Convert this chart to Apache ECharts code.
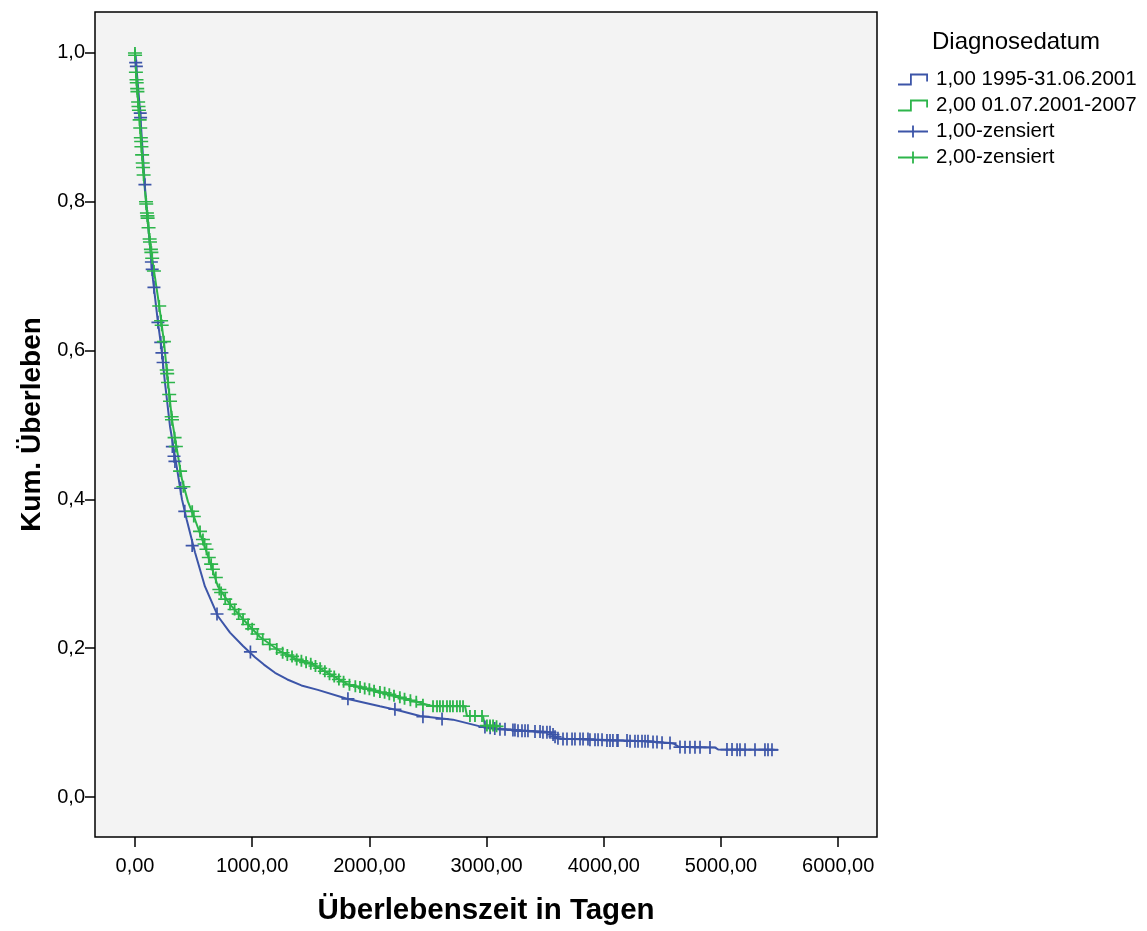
<!DOCTYPE html>
<html><head><meta charset="utf-8">
<script src="https://cdn.jsdelivr.net/npm/echarts@6/dist/echarts.min.js"></script>
<style>html,body{margin:0;padding:0;background:#fff}#c{width:1147px;height:931px}</style>
</head><body><div id="c"></div><script>
const xTicks = [0, 1000, 2000, 3000, 4000, 5000, 6000];
const yTicks = [0, 0.2, 0.4, 0.6, 0.8, 1.0];
const seriesNames = ['1,00 1995-31.06.2001', '2,00 01.07.2001-2007', '1,00-zensiert', '2,00-zensiert'];

// group 1 survival curve [days, cumulative survival]
const curve1 = [[0,1.0],[9,0.987],[43,0.923],[85,0.820],[128,0.740],[154,0.695],[196,0.638],[222,0.608],[256,0.557],[299,0.498],[356,0.444],[401,0.400],[441,0.373],[512,0.329],[597,0.283],[708,0.243],[811,0.221],[922,0.203],[1024,0.188],[1100,0.178],[1195,0.167],[1300,0.158],[1420,0.150],[1560,0.144],[1809,0.132],[2090,0.122],[2261,0.116],[2432,0.109],[2713,0.104],[2944,0.095],[3114,0.0913],[3541,0.0870],[3580,0.0800],[3626,0.0785],[3968,0.0770],[4394,0.0745],[4565,0.0725],[4600,0.0715],[4640,0.0675],[4950,0.0665],[4975,0.0640],[5486,0.0635]];

// group 2 survival curve
const curve2 = [[0,1.0],[13,0.964],[34,0.919],[55,0.874],[77,0.830],[102,0.785],[132,0.740],[171,0.698],[207,0.660],[247,0.612],[282,0.557],[316,0.507],[358,0.467],[401,0.427],[452,0.397],[512,0.373],[612,0.329],[708,0.283],[811,0.259],[922,0.239],[1067,0.215],[1237,0.196],[1382,0.185],[1519,0.178],[1809,0.152],[2090,0.141],[2372,0.129],[2543,0.122],[2816,0.122],[2833,0.109],[2969,0.109],[2986,0.096],[3089,0.095]];

// censored observations group 1
const censor1 = [[6,0.987],[12,0.982],[45,0.919],[48,0.913],[85,0.823],[140,0.719],[147,0.709],[162,0.685],[196,0.638],[220,0.611],[230,0.597],[240,0.584],[319,0.471],[333,0.458],[341,0.451],[390,0.415],[425,0.384],[488,0.338],[700,0.246],[985,0.195],[1817,0.132],[2218,0.118],[2457,0.108],[2620,0.105],[2986,0.094],[3030,0.093],[3070,0.092],[3114,0.091],[3157,0.091],[3225,0.090],[3242,0.090],[3268,0.089],[3302,0.089],[3328,0.089],[3353,0.089],[3413,0.088],[3456,0.088],[3481,0.087],[3515,0.087],[3541,0.087],[3567,0.084],[3584,0.081],[3609,0.079],[3652,0.078],[3686,0.078],[3729,0.078],[3754,0.078],[3797,0.078],[3823,0.078],[3865,0.078],[3882,0.077],[3925,0.077],[3951,0.077],[3985,0.077],[4027,0.076],[4053,0.076],[4078,0.076],[4113,0.076],[4121,0.076],[4198,0.076],[4224,0.075],[4266,0.075],[4292,0.075],[4326,0.075],[4352,0.075],[4377,0.075],[4420,0.074],[4454,0.074],[4497,0.073],[4565,0.0725],[4650,0.0672],[4693,0.0670],[4735,0.0670],[4778,0.0668],[4821,0.0668],[4906,0.0666],[5051,0.0638],[5094,0.0638],[5137,0.0637],[5162,0.0637],[5205,0.0637],[5290,0.0636],[5375,0.0636],[5401,0.0636],[5435,0.0635]];

// censored observations group 2
const censor2 = [[0,1.0],[1,0.997],[8,0.974],[13,0.964],[15,0.960],[19,0.952],[21,0.948],[27,0.934],[30,0.928],[34,0.923],[40,0.910],[45,0.899],[50,0.886],[53,0.881],[55,0.874],[61,0.863],[66,0.852],[69,0.846],[74,0.836],[94,0.800],[96,0.797],[102,0.785],[106,0.781],[108,0.778],[116,0.765],[125,0.750],[128,0.746],[136,0.736],[140,0.732],[147,0.724],[162,0.707],[207,0.660],[223,0.640],[228,0.634],[247,0.612],[271,0.574],[275,0.569],[282,0.557],[292,0.541],[299,0.532],[313,0.511],[316,0.507],[338,0.483],[349,0.471],[385,0.438],[413,0.417],[488,0.384],[502,0.377],[555,0.357],[580,0.346],[594,0.340],[610,0.333],[630,0.322],[650,0.313],[665,0.306],[690,0.295],[720,0.279],[735,0.275],[770,0.266],[811,0.259],[850,0.252],[885,0.246],[922,0.239],[965,0.232],[1000,0.226],[1045,0.219],[1090,0.212],[1150,0.205],[1210,0.199],[1260,0.194],[1300,0.191],[1340,0.189],[1380,0.185],[1420,0.183],[1460,0.181],[1500,0.179],[1540,0.176],[1580,0.173],[1620,0.169],[1660,0.165],[1700,0.162],[1740,0.158],[1780,0.155],[1830,0.151],[1880,0.149],[1920,0.148],[1960,0.146],[2000,0.145],[2040,0.143],[2090,0.141],[2130,0.140],[2170,0.138],[2210,0.136],[2260,0.134],[2300,0.132],[2350,0.130],[2400,0.128],[2457,0.124],[2543,0.122],[2577,0.122],[2602,0.122],[2628,0.122],[2662,0.122],[2688,0.122],[2713,0.122],[2747,0.122],[2773,0.122],[2799,0.122],[2858,0.109],[2901,0.109],[2961,0.109],[3003,0.096],[3029,0.096],[3055,0.096],[3085,0.095]];

const BLUE = '#3C55A8', GREEN = '#2DB54B';
const FONT = '"Liberation Sans", Arial, sans-serif';
const plus = 'path://M-1,-0.13L1,-0.13L1,0.13L-1,0.13Z M-0.13,-1L0.13,-1L0.13,1L-0.13,1Z';
const stepIcon = 'path://M0,10H12V0H30V8H28.2V1.8H13.8V11.8H0Z';
const plusIcon = 'path://M0,5.1H30V6.9H0Z M14.1,0H15.9V12H14.1Z';

const chart = echarts.init(document.getElementById('c'), null, {renderer: 'canvas'});
chart.setOption({
  animation: false,
  backgroundColor: '#fff',
  title: {text: 'Diagnosedatum', left: 927, top: 25, textStyle: {fontFamily: FONT, fontSize: 24, fontWeight: 'normal', color: '#000'}},
  legend: {
    orient: 'vertical', left: 893, top: 64, itemWidth: 30, itemHeight: 12, itemGap: 5,
    textStyle: {fontFamily: FONT, fontSize: 20.5, color: '#000', padding: [0,0,0,3]},
    itemStyle: {borderWidth: 0},
    data: [
      {name: seriesNames[0], icon: stepIcon},
      {name: seriesNames[1], icon: stepIcon},
      {name: seriesNames[2], icon: plusIcon},
      {name: seriesNames[3], icon: plusIcon}
    ]
  },
  grid: {left: 95, right: 270, top: 12, bottom: 93, show: true, backgroundColor: '#f3f3f3', borderColor: '#000', borderWidth: 1.5},
  xAxis: {
    type: 'value', min: -341, max: 6331,
    axisLine: {show: false, onZero: false},
    axisTick: {show: true, customValues: xTicks, length: 10, lineStyle: {color: '#000', width: 1.5}},
    axisLabel: {customValues: xTicks, formatter: v => v.toFixed(2).replace('.', ','), color: '#000', fontSize: 20, fontFamily: FONT, margin: 19},
    splitLine: {show: false},
    name: 'Überlebenszeit in Tagen', nameLocation: 'middle', nameGap: 59,
    nameTextStyle: {fontFamily: FONT, fontSize: 29.5, fontWeight: 'bold', color: '#000'}
  },
  yAxis: {
    type: 'value', min: -0.0537, max: 1.055,
    axisLine: {show: false, onZero: false},
    axisTick: {show: true, customValues: yTicks, length: 10, lineStyle: {color: '#000', width: 1.5}},
    axisLabel: {customValues: yTicks, formatter: v => v.toFixed(1).replace('.', ','), color: '#000', fontSize: 20, fontFamily: FONT, margin: 10},
    splitLine: {show: false},
    name: 'Kum. Überleben', nameLocation: 'middle', nameGap: 48, nameRotate: 90,
    nameTextStyle: {fontFamily: FONT, fontSize: 28, fontWeight: 'bold', color: '#000'}
  },
  series: [
    {name: seriesNames[0], type: 'line', data: curve1, symbol: 'none', lineStyle: {color: BLUE, width: 2}, itemStyle: {color: BLUE}, z: 2},
    {name: seriesNames[1], type: 'line', data: curve2, symbol: 'none', lineStyle: {color: GREEN, width: 2}, itemStyle: {color: GREEN}, z: 3},
    {name: seriesNames[2], type: 'scatter', data: censor1, symbol: plus, symbolSize: [13, 13], itemStyle: {color: BLUE, opacity: 1}, z: 4},
    {name: seriesNames[3], type: 'scatter', data: censor2, symbol: plus, symbolSize: [14, 12], itemStyle: {color: GREEN, opacity: 1}, z: 5}
  ]
});
</script></body></html>
